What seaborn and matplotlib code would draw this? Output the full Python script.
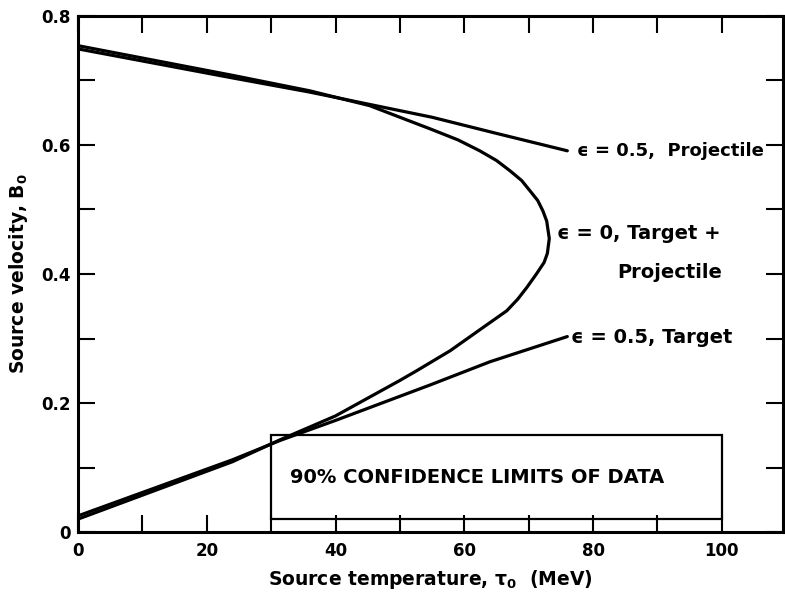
import matplotlib
matplotlib.use("Agg")
import matplotlib.pyplot as plt
from matplotlib.patches import Rectangle
from matplotlib.ticker import MultipleLocator, FixedLocator, FixedFormatter
import pandas as pd
import seaborn as sns

# epsilon = 0.5, projectile source
proj_tau = [0, 24, 36, 55, 65, 76]
proj_beta = [0.749, 0.704, 0.682, 0.643, 0.618, 0.591]

# epsilon = 0.5, target source
targ_tau = [0, 24, 31.4, 40, 54.7, 64, 76]
targ_beta = [0.025, 0.112, 0.142, 0.173, 0.228, 0.264, 0.303]

# epsilon = 0, target + projectile (closed loop)
loop_tau = [0, 24, 36, 45.3, 54.7, 59.0, 62.4, 65.0, 67.1, 68.9, 70.2, 71.4,
            72.2, 72.8, 73.2, 72.9, 72.4, 71.2, 69.7, 68.3, 66.6, 62.9, 57.8,
            52.6, 50, 40, 31.4, 24, 0]
loop_beta = [0.754, 0.708, 0.684, 0.661, 0.625, 0.608, 0.591, 0.576, 0.560,
             0.545, 0.529, 0.514, 0.498, 0.482, 0.455, 0.432, 0.418, 0.400,
             0.379, 0.361, 0.343, 0.317, 0.281, 0.250, 0.235, 0.180, 0.143,
             0.109, 0.020]

# 90% confidence limits of the data
box_tau = (30, 100)
box_beta = (0.02, 0.15)

x_ticks = [0, 20, 40, 60, 80, 100]
y_ticks = [0, 0.2, 0.4, 0.6, 0.8]
y_tick_labels = ["0", "0.2", "0.4", "0.6", "0.8"]

sns.set_style("ticks")
plt.rcParams["font.family"] = ["DejaVu Sans"]
plt.rcParams["font.weight"] = "bold"
plt.rcParams["text.color"] = "black"
plt.rcParams["axes.labelcolor"] = "black"
plt.rcParams["xtick.color"] = "black"
plt.rcParams["ytick.color"] = "black"

fig = plt.figure(figsize=(7.85, 5.96), dpi=100)
ax = fig.add_axes([78 / 785, 1 - 532 / 596, 705 / 785, 516 / 596])

line_kw = dict(color="black", linewidth=2.3, sort=False, estimator=None,
               legend=False, ax=ax)
sns.lineplot(data=pd.DataFrame({"tau": proj_tau, "beta": proj_beta}),
             x="tau", y="beta", **line_kw)
sns.lineplot(data=pd.DataFrame({"tau": targ_tau, "beta": targ_beta}),
             x="tau", y="beta", **line_kw)
sns.lineplot(data=pd.DataFrame({"tau": loop_tau, "beta": loop_beta}),
             x="tau", y="beta", **line_kw)
for ln in ax.lines:
    ln.set_solid_joinstyle("round")

ax.add_patch(Rectangle((box_tau[0], box_beta[0]), box_tau[1] - box_tau[0],
                       box_beta[1] - box_beta[0], fill=False,
                       edgecolor="black", linewidth=1.6))
ax.text(62, (box_beta[0] + box_beta[1]) / 2, "90% CONFIDENCE LIMITS OF DATA",
        ha="center", va="center", fontsize=14, fontweight="bold")

ax.text(77.5, 0.591, "ϵ = 0.5,  Projectile", ha="left", va="center",
        fontsize=13, fontweight="bold")
ax.text(74.4, 0.463, "ϵ = 0, Target +", ha="left", va="center",
        fontsize=14, fontweight="bold")
ax.text(100, 0.402, "Projectile", ha="right", va="center",
        fontsize=14, fontweight="bold")
ax.text(76.6, 0.302, "ϵ = 0.5, Target", ha="left", va="center",
        fontsize=14, fontweight="bold")

ax.set_xlim(0, 109.5)
ax.set_ylim(0, 0.8)
ax.xaxis.set_major_locator(FixedLocator(x_ticks))
ax.xaxis.set_minor_locator(MultipleLocator(10))
ax.yaxis.set_major_locator(FixedLocator(y_ticks))
ax.yaxis.set_major_formatter(FixedFormatter(y_tick_labels))
ax.yaxis.set_minor_locator(MultipleLocator(0.1))
ax.tick_params(which="both", direction="in", length=12, width=1.5,
               top=True, right=True, color="black")
ax.tick_params(axis="x", which="major", pad=7, labelsize=12)
ax.tick_params(axis="y", which="major", pad=5, labelsize=12)
for s in ax.spines.values():
    s.set_visible(True)
    s.set_linewidth(2.2)
    s.set_color("black")

ax.set_xlabel("Source temperature, τ$_\\mathregular{0}$  (MeV)", fontsize=13.5,
              fontweight="bold", labelpad=6)
ax.set_ylabel("Source velocity, B$_\\mathregular{0}$", fontsize=13.5,
              fontweight="bold", labelpad=8)

fig.savefig("out.png", dpi=100)
